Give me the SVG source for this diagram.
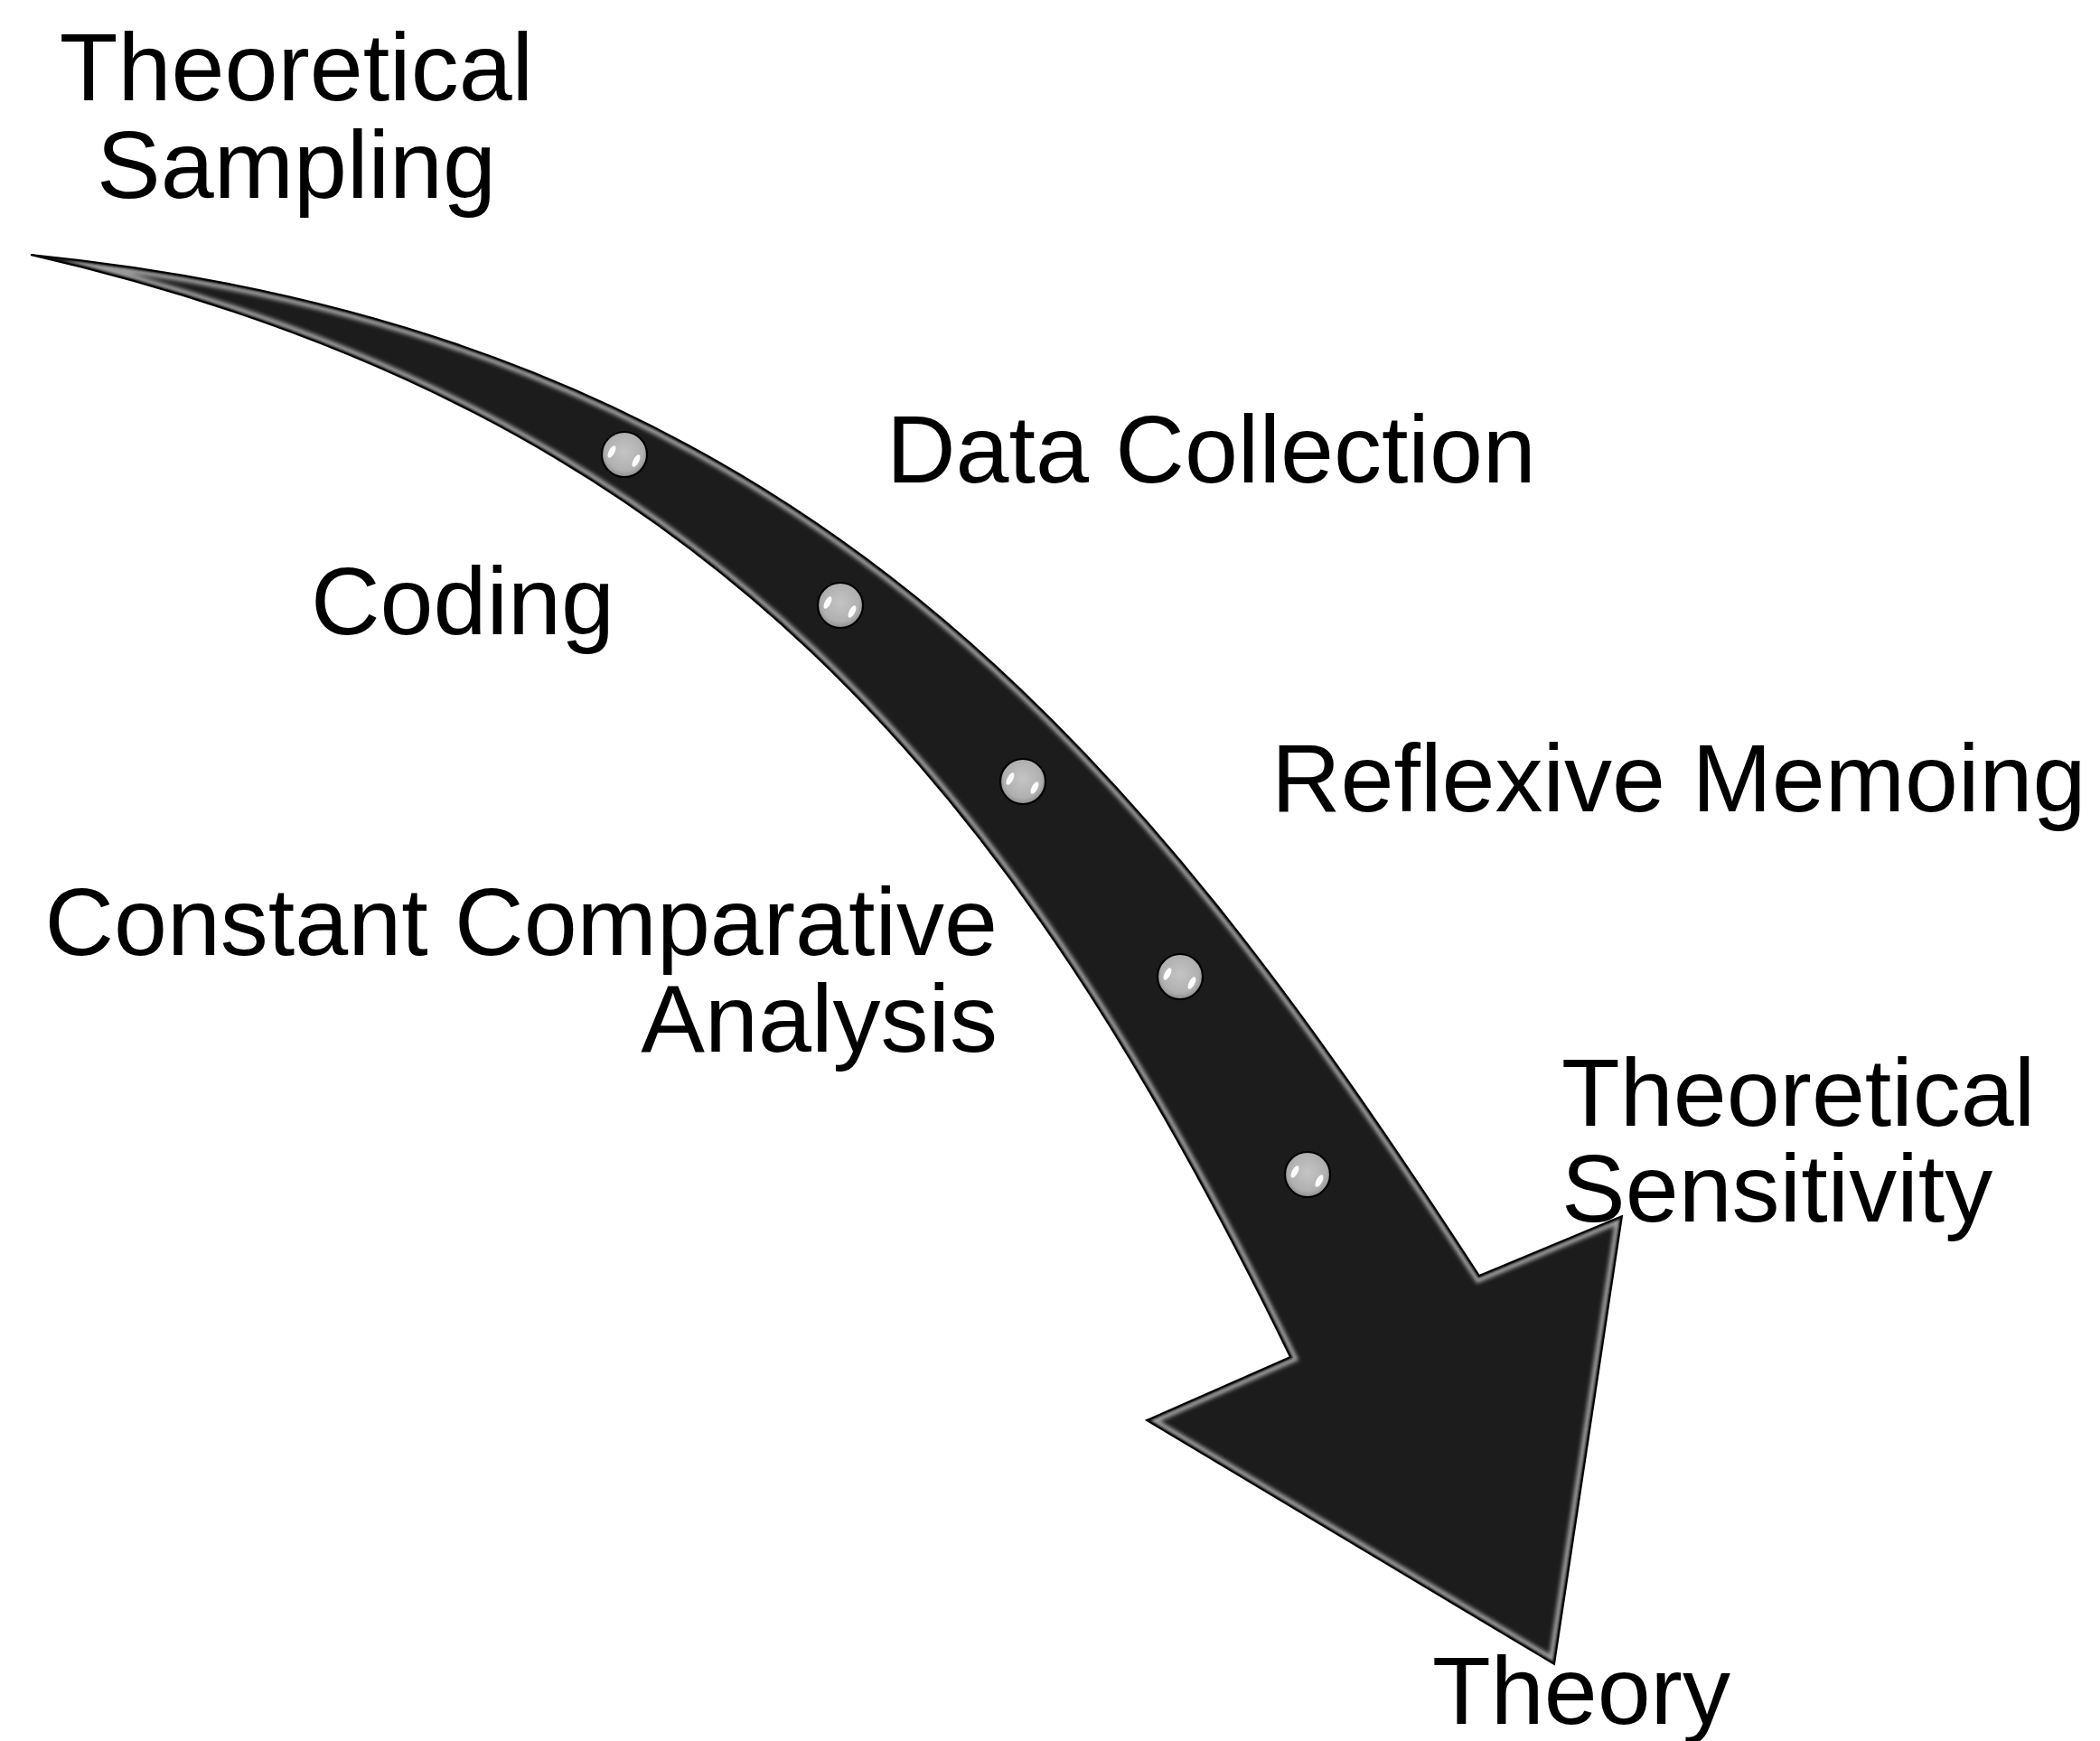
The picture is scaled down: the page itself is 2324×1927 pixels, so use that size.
<svg xmlns="http://www.w3.org/2000/svg" xmlns:xlink="http://www.w3.org/1999/xlink" width="2324" height="1927" viewBox="0 0 2324 1927">
  <style>
    .label { font-family: "Liberation Sans", Arial, sans-serif; font-size: 106px; fill: #000; }
    .bead-body { fill: url(#beadGrad); stroke: #000; stroke-width: 2.2; }
    .bead-glint { fill: #fff; opacity: 0.95; }
  </style>
  <defs>
    <!-- curved process arrow: thin tail upper-left, broad head lower-right -->
    <path id="arrowShape" d="M 34,282 C 884,367 1255,825 1637,1412 L 1795,1346 L 1720,1842 L 1269,1572 L 1428,1502 C 1121,873 784,454.5 34,282 Z"/>
    <clipPath id="arrowClip">
      <use xlink:href="#arrowShape"/>
    </clipPath>
    <filter id="soft" x="-5%" y="-5%" width="110%" height="110%">
      <feGaussianBlur stdDeviation="2"/>
    </filter>
    <filter id="softer" x="-5%" y="-5%" width="110%" height="110%">
      <feGaussianBlur stdDeviation="1.1"/>
    </filter>
    <radialGradient id="beadGrad" cx="0.5" cy="0.45" r="0.55">
      <stop offset="0" stop-color="#c4c4c4"/>
      <stop offset="0.75" stop-color="#b0b0b0"/>
      <stop offset="1" stop-color="#8e8e8e"/>
    </radialGradient>
    <g id="bead">
      <circle class="bead-body" cx="0" cy="0" r="25"/>
      <ellipse class="bead-glint" cx="-14" cy="-3" rx="3.2" ry="7.5" transform="rotate(28 -14 -3)"/>
      <ellipse class="bead-glint" cx="13" cy="7" rx="3.2" ry="7.5" transform="rotate(28 13 7)"/>
    </g>
  </defs>

  <!-- arrow body with bevelled inner edge -->
  <g id="arrow">
    <use xlink:href="#arrowShape" fill="#1c1c1c"/>
    <g clip-path="url(#arrowClip)">
      <use xlink:href="#arrowShape" fill="none" stroke="#9a9a9a" stroke-width="14" stroke-linejoin="miter" filter="url(#soft)"/>
      <use xlink:href="#arrowShape" fill="none" stroke="#1c1c1c" stroke-width="4.5" stroke-linejoin="miter" filter="url(#softer)"/>
    </g>
    <use xlink:href="#arrowShape" fill="none" stroke="#000" stroke-width="2" stroke-linejoin="miter"/>
  </g>

  <!-- pearl markers along the arrow -->
  <g id="beads">
    <use id="bead1" xlink:href="#bead" transform="translate(691 503)"/>
    <use id="bead2" xlink:href="#bead" transform="translate(930 670)"/>
    <use id="bead3" xlink:href="#bead" transform="translate(1132 865)"/>
    <use id="bead4" xlink:href="#bead" transform="translate(1306 1081)"/>
    <use id="bead5" xlink:href="#bead" transform="translate(1447 1300)"/>
  </g>

  <!-- stage labels -->
  <g id="theoretical-sampling">
    <text class="label" x="328" y="111" text-anchor="middle">Theoretical</text>
    <text class="label" x="328" y="219" text-anchor="middle">Sampling</text>
  </g>
  <g id="data-collection">
    <text class="label" x="981" y="534">Data Collection</text>
  </g>
  <g id="coding">
    <text class="label" x="344" y="702">Coding</text>
  </g>
  <g id="reflexive-memoing">
    <text class="label" x="1407" y="898">Reflexive Memoing</text>
  </g>
  <g id="constant-comparative-analysis">
    <text class="label" x="1104" y="1057" text-anchor="end">Constant Comparative</text>
    <text class="label" x="1104" y="1164" text-anchor="end">Analysis</text>
  </g>
  <g id="theoretical-sensitivity">
    <text class="label" x="1728" y="1246">Theoretical</text>
    <text class="label" x="1728" y="1352">Sensitivity</text>
  </g>
  <g id="theory">
    <text class="label" x="1585" y="1908">Theory</text>
  </g>
</svg>
